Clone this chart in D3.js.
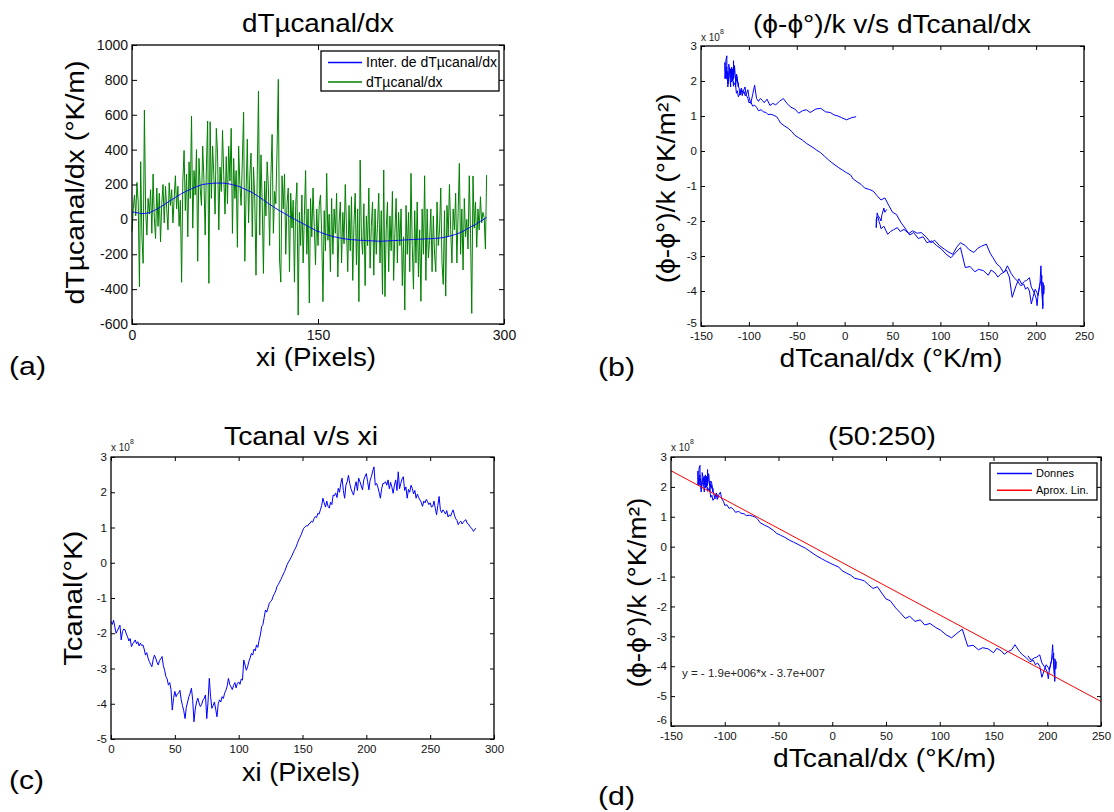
<!DOCTYPE html>
<html>
<head>
<meta charset="utf-8">
<script src="https://cdn.jsdelivr.net/npm/d3@7"></script>
<style>
  body { margin: 0; background: #fff; }
  svg { display: block; }
</style>
</head>
<body>
<svg id="fig" width="1114" height="812"></svg>
<script>
const FONT = "'Liberation Sans', Arial, Helvetica, sans-serif"

// pixel position along the channel (xi)
const pixelIndex = d3.range(287)

// interpolated dTµcanal/dx (°K/m), panel (a) blue
const dTInterp = [
  44, 42, 41, 39, 38, 37, 35, 34, 33, 33,
  34, 35, 36, 37, 38, 41, 45, 48, 51, 55,
  58, 62, 67, 71, 76, 80, 85, 90, 94, 99,
  104, 108, 113, 117, 121, 126, 130, 135, 139, 143,
  148, 152, 155, 159, 162, 166, 169, 172, 175, 179,
  182, 185, 188, 190, 193, 195, 198, 200, 201, 202,
  203, 204, 205, 206, 206, 207, 207, 208, 208, 208,
  208, 208, 208, 208, 207, 207, 206, 205, 204, 202,
  201, 199, 197, 195, 193, 191, 189, 187, 184, 180,
  177, 174, 170, 167, 163, 160, 157, 153, 150, 145,
  140, 136, 131, 126, 121, 116, 111, 106, 101, 96,
  91, 86, 82, 77, 72, 68, 63, 59, 54, 50,
  46, 42, 38, 34, 30, 26, 21, 17, 13, 9,
  6, 2, -2, -6, -10, -14, -17, -21, -25, -29,
  -32, -36, -40, -44, -48, -52, -55, -59, -63, -67,
  -69, -71, -74, -77, -80, -82, -85, -87, -90, -92,
  -94, -96, -98, -100, -101, -103, -104, -106, -107, -108,
  -110, -111, -112, -113, -114, -115, -116, -116, -117, -117,
  -118, -118, -119, -119, -120, -120, -121, -121, -121, -122,
  -122, -122, -123, -123, -123, -124, -124, -124, -125, -125,
  -125, -125, -125, -124, -124, -124, -123, -123, -123, -122,
  -122, -122, -121, -121, -121, -120, -120, -119, -119, -118,
  -118, -118, -117, -117, -116, -116, -116, -115, -115, -115,
  -114, -114, -114, -113, -113, -113, -112, -112, -112, -111,
  -111, -111, -110, -110, -109, -109, -108, -108, -107, -106,
  -105, -104, -103, -101, -100, -98, -96, -94, -92, -90,
  -88, -86, -84, -81, -78, -75, -72, -68, -64, -60,
  -56, -52, -48, -44, -40, -36, -33, -30, -25, -20,
  -15, -11, -7, -3, 2, 7, 12
]

// raw dTµcanal/dx (°K/m), panel (a) green
const dTRaw = [
  -70, 60, 140, 20, 212, 100, -386, 331, -100, -252,
  627, 50, -90, 120, 30, 170, -80, 260, 10, -110,
  180, -40, 150, -130, 90, 200, -20, 190, 60, -60,
  210, 80, 170, -20, 120, 250, 60, 190, -40, 110,
  -361, 220, 395, 50, 260, -100, 330, 120, 593, -50,
  280, 140, 400, -240, 350, 180, 80, 420, 230, -90,
  300, 564, -367, 560, 120, 420, 250, 30, 522, 380,
  -60, 300, 160, 510, 250, 30, 360, 90, 420, 220,
  522, -80, 350, 120, 280, -160, 420, 200, 80, 340,
  614, -240, 150, 460, -20, 250, 380, -100, 300, 120,
  -320, 250, 736, -90, 370, 100, -310, 220, 20, 330,
  180, -150, 250, 487, -80, 160, 90, 410, 803, -233,
  -360, 250, 60, 260, -200, 90, 180, -300, 150, -50,
  110, -360, 80, 210, -549, 40, -150, 140, -250, 20,
  280, -200, 60, -480, 120, -100, 180, -40, -260, 60,
  -150, 80, 140, -90, -472, 50, -180, 264, -120, 30,
  -300, 120, -200, 60, -80, 150, -330, -20, 100, -250,
  40, -140, 200, -60, -300, 80, -180, 130, -350, -30,
  150, -260, 60, -472, 340, -100, -200, 90, -380, 20,
  -150, 180, -280, -40, 100, -320, 60, -200, -30, 150,
  -250, 50, -430, 283, -443, -60, 100, -300, 20, -180,
  160, -350, -80, 120, -250, 40, -150, 60, -380, -100,
  -520, 80, -200, 40, -300, 264, -150, -400, 50, -250,
  100, -330, -60, -470, 60, -200, 250, -350, 60, -220,
  -120, 60, -300, 20, -200, -300, 100, -150, -60, 180,
  -250, -373, 50, -440, 80, -100, 200, -60, -250, 60,
  -60, 150, -250, 40, 321, -200, 60, -290, 120, -100,
  0, -170, 250, -80, -539, 249, -50, 100, -160, 60,
  -60, 130, -20, 40, 10, -170, 254
]

// Tcanal, panel (c), in units of 1e8
const tCanal = [
  -1.67, -1.75, -1.63, -1.82, -2.00, -1.93, -1.85, -1.77, -2.19, -1.95,
  -1.88, -1.90, -2.02, -2.10, -2.22, -2.15, -2.38, -2.30, -2.25, -2.19,
  -2.30, -2.24, -2.36, -2.28, -2.35, -2.33, -2.45, -2.62, -2.55, -2.70,
  -2.80, -2.88, -2.95, -2.75, -2.62, -2.70, -2.82, -2.90, -2.78, -2.72,
  -2.66, -2.92, -3.05, -3.23, -3.30, -3.47, -3.40, -3.60, -4.18, -3.85,
  -3.65, -3.80, -3.72, -3.70, -3.62, -3.89, -4.05, -4.20, -4.42, -4.10,
  -3.95, -3.80, -3.70, -3.56, -3.90, -4.51, -4.15, -3.95, -3.84, -3.98,
  -4.08, -4.02, -3.90, -3.85, -3.75, -4.42, -3.95, -3.28, -3.80, -4.13,
  -4.05, -3.95, -4.15, -4.37, -4.00, -3.89, -3.95, -3.80, -3.85, -3.70,
  -3.62, -3.50, -3.28, -3.45, -3.52, -3.60, -3.48, -3.40, -3.55, -3.42,
  -3.38, -3.45, -3.30, -3.33, -2.76, -2.90, -3.05, -2.95, -2.80, -2.70,
  -2.57, -2.62, -2.45, -2.50, -2.33, -2.40, -2.20, -2.05, -1.81, -1.75,
  -1.55, -1.34, -1.40, -1.28, -1.15, -1.10, -1.06, -0.95, -0.88, -0.80,
  -0.68, -0.62, -0.55, -0.48, -0.40, -0.32, -0.25, -0.15, -0.05, 0.02,
  0.08, 0.15, 0.22, 0.31, 0.38, 0.45, 0.55, 0.65, 0.72, 0.80,
  0.90, 0.98, 1.02, 1.05, 1.04, 1.10, 1.12, 1.18, 1.15, 1.25,
  1.31, 1.28, 1.40, 1.38, 1.50, 1.62, 1.83, 1.70, 1.58, 1.75,
  1.60, 1.55, 1.72, 1.65, 1.92, 1.90, 1.98, 1.85, 2.11, 2.00,
  2.25, 2.40, 2.05, 1.83, 2.20, 2.30, 2.48, 2.25, 2.10, 2.00,
  1.92, 2.15, 2.30, 2.05, 2.40, 2.30, 2.18, 2.07, 2.35, 2.45,
  2.53, 2.30, 2.07, 2.35, 2.45, 2.60, 2.72, 2.20, 2.25, 2.15,
  2.00, 1.83, 2.10, 2.25, 2.25, 2.30, 2.20, 2.35, 2.10, 2.28,
  2.15, 1.97, 2.20, 2.35, 2.05, 2.58, 2.10, 2.25, 2.38, 2.44,
  2.05, 2.15, 1.83, 2.08, 2.00, 2.20, 2.11, 1.95, 2.05, 1.83,
  1.95, 1.85, 1.78, 1.72, 1.60, 1.75, 1.70, 1.80, 1.73, 1.65,
  1.70, 1.58, 1.60, 1.75, 1.55, 1.36, 1.62, 1.88, 1.50, 1.42,
  1.50, 1.45, 1.38, 1.48, 1.30, 1.36, 1.32, 1.42, 1.50, 1.35,
  1.25, 1.20, 1.08, 1.15, 1.18, 1.10, 1.15, 1.20, 1.22, 1.12,
  1.10, 1.03, 1.00, 0.95, 0.89, 0.95, 0.98
]

// linear fit shown in panel (d): end points (×1e8)
const fitX = [-150, 250]
const fitY = [2.54, -5.18]
const fitRange = [50, 250]

// tick values
const xiTicksA = [0, 150, 300]
const dTTicksA = [-600, -400, -200, 0, 200, 400, 600, 800, 1000]
const gradTicks = [-150, -100, -50, 0, 50, 100, 150, 200, 250]
const phiTicksB = [-5, -4, -3, -2, -1, 0, 1, 2, 3]
const xiTicksC = [0, 50, 100, 150, 200, 250, 300]
const tTicksC = [-5, -4, -3, -2, -1, 0, 1, 2, 3]
const phiTicksD = [-6, -5, -4, -3, -2, -1, 0, 1, 2, 3]

const svg = d3.select('#fig')
  .attr('font-family', FONT)

svg.append('rect')
  .attr('width', 1114)
  .attr('height', 812)
  .attr('fill', '#fff')

/**
 * Draws the box, the inward ticks on the four sides and the tick labels.
 * lift raises the lowest y label, as MATLAB does when it crowds the x labels.
 */
function drawFrame (box, x, y, xTicks, yTicks, tickFont, tickLen, lift) {
  const g = svg.append('g')
  const fmt = d => String(d)

  g.append('g')
    .attr('transform', 'translate(0,' + box.bottom + ')')
    .call(d3.axisBottom(x).tickValues(xTicks).tickSize(-tickLen).tickPadding(6).tickFormat(fmt))
  g.append('g')
    .attr('transform', 'translate(0,' + box.top + ')')
    .call(d3.axisTop(x).tickValues(xTicks).tickSize(-tickLen).tickFormat(''))
  const left = g.append('g')
    .attr('transform', 'translate(' + box.left + ',0)')
    .call(d3.axisLeft(y).tickValues(yTicks).tickSize(-tickLen).tickPadding(4).tickFormat(fmt))
  g.append('g')
    .attr('transform', 'translate(' + box.right + ',0)')
    .call(d3.axisRight(y).tickValues(yTicks).tickSize(-tickLen).tickFormat(''))

  g.selectAll('.domain').remove()
  g.selectAll('.tick line').attr('stroke', '#000').attr('stroke-width', 1)
  g.selectAll('g').attr('font-family', FONT).attr('font-size', tickFont)
  g.selectAll('.tick text').attr('fill', '#111')
  left.selectAll('.tick text')
    .filter(d => d === yTicks[0])
    .attr('y', -(lift || 0))

  g.append('rect')
    .attr('x', box.left)
    .attr('y', box.top)
    .attr('width', box.right - box.left)
    .attr('height', box.bottom - box.top)
    .attr('fill', 'none')
    .attr('stroke', '#000')
    .attr('stroke-width', 1.3)
}

/**
 * Adds a text element; len stretches it to the width seen in the figure.
 */
function label (txt, x, y, size, anchor, len) {
  const t = svg.append('text')
    .attr('x', x)
    .attr('y', y)
    .attr('font-size', size)
    .attr('text-anchor', anchor || 'middle')
    .attr('fill', '#000')
    .text(txt)
  if (len) t.attr('textLength', len).attr('lengthAdjust', 'spacingAndGlyphs')
  return t
}

function yLabel (txt, x, cy, size, len) {
  return svg.append('text')
    .attr('transform', 'translate(' + x + ',' + cy + ') rotate(-90)')
    .attr('font-size', size)
    .attr('text-anchor', 'middle')
    .attr('fill', '#000')
    .attr('textLength', len)
    .attr('lengthAdjust', 'spacingAndGlyphs')
    .text(txt)
}

function exponent (x, y) {
  const t = label('x 10', x, y, 10, 'start').attr('fill', '#222')
  t.append('tspan').attr('dy', -7).attr('font-size', 7).text('8')
}

function drawPath (data, x, y, color, width) {
  svg.append('path')
    .datum(data)
    .attr('fill', 'none')
    .attr('stroke', color)
    .attr('stroke-width', width)
    .attr('stroke-linejoin', 'round')
    .attr('d', d3.line().x(d => x(d[0])).y(d => y(d[1])))
}

function drawLegend (box, rows, fontSize, lineLen) {
  svg.append('rect')
    .attr('x', box.x).attr('y', box.y)
    .attr('width', box.w).attr('height', box.h)
    .attr('fill', '#fff')
    .attr('stroke', '#000')
    .attr('stroke-width', 1.3)
  rows.forEach((r, i) => {
    const cy = box.y + box.row0 + i * box.step
    svg.append('line')
      .attr('x1', box.x + box.pad).attr('x2', box.x + box.pad + lineLen)
      .attr('y1', cy).attr('y2', cy)
      .attr('stroke', r.color).attr('stroke-width', 1.5)
    label(r.name, box.x + box.pad + lineLen + 4, cy, fontSize, 'start')
      .attr('dy', '0.35em')
  })
}

const BIG = 26

// ---------- (a) dTµcanal/dx ----------
const boxA = { left: 132, right: 504, top: 45, bottom: 324 }
const xA = d3.scaleLinear().domain([0, 300]).range([boxA.left, boxA.right])
const yA = d3.scaleLinear().domain([-600, 1000]).range([boxA.bottom, boxA.top])
drawPath(pixelIndex.map(i => [i, dTRaw[i]]), xA, yA, '#008000', 1)
drawPath(pixelIndex.map(i => [i, dTInterp[i]]), xA, yA, '#0000ff', 1)
drawFrame(boxA, xA, yA, xiTicksA, dTTicksA, 14, 5, 0)
drawLegend({ x: 321, y: 51, w: 178, h: 40, row0: 11.5, step: 19.5, pad: 7 },
  [{ name: 'Inter. de dTµcanal/dx', color: '#0000ff' }, { name: 'dTµcanal/dx', color: '#008000' }],
  14, 34)
label('dTµcanal/dx', 318, 32, BIG, 'middle', 152)
label('xi (Pixels)', 316, 366, BIG, 'middle', 120)
yLabel('dTµcanal/dx (°K/m)', 84, 182.5, BIG, 244)
label('(a)', 9, 375, BIG, 'start', 37)

// ---------- (b) (ϕ-ϕ°)/k v/s dTcanal/dx ----------
const boxB = { left: 701, right: 1084, top: 46, bottom: 326 }
const xB = d3.scaleLinear().domain([-150, 250]).range([boxB.left, boxB.right])
const yB = d3.scaleLinear().domain([-5, 3]).range([boxB.bottom, boxB.top])
drawPath(pixelIndex.map(i => [dTInterp[i], tCanal[i]]), xB, yB, '#0000ff', 1)
drawFrame(boxB, xB, yB, gradTicks, phiTicksB, 11.5, 4, 3)
exponent(701, 41)
label('(ϕ-ϕ°)/k v/s dTcanal/dx', 892, 33, BIG, 'middle', 278)
label('dTcanal/dx (°K/m)', 891, 367, BIG, 'middle', 223)
yLabel('(ϕ-ϕ°)/k (°K/m²)', 675, 188.3, BIG, 190)
label('(b)', 598, 376, BIG, 'start', 37)

// ---------- (c) Tcanal v/s xi ----------
const boxC = { left: 111, right: 494, top: 457, bottom: 739 }
const xC = d3.scaleLinear().domain([0, 300]).range([boxC.left, boxC.right])
const yC = d3.scaleLinear().domain([-5, 3]).range([boxC.bottom, boxC.top])
drawPath(pixelIndex.map(i => [i, tCanal[i]]), xC, yC, '#0000ff', 1)
drawFrame(boxC, xC, yC, xiTicksC, tTicksC, 11.5, 4, 0)
exponent(111, 451)
label('Tcanal v/s xi', 301, 445, BIG, 'middle', 154)
label('xi (Pixels)', 301, 781, BIG, 'middle', 118)
yLabel('Tcanal(°K)', 82, 598.3, BIG, 135)
label('(c)', 9, 789, BIG, 'start', 35)

// ---------- (d) (50:250) ----------
const boxD = { left: 671, right: 1101, top: 457, bottom: 726 }
const xD = d3.scaleLinear().domain([-150, 250]).range([boxD.left, boxD.right])
const yD = d3.scaleLinear().domain([-6, 3]).range([boxD.bottom, boxD.top])
const subset = pixelIndex.slice(fitRange[0], fitRange[1] + 1)
drawPath(subset.map(i => [dTInterp[i], tCanal[i]]), xD, yD, '#0000ff', 1)
drawPath(fitX.map((v, i) => [v, fitY[i]]), xD, yD, '#ff0000', 1)
drawFrame(boxD, xD, yD, gradTicks, phiTicksD, 11.5, 4, 6)
drawLegend({ x: 990, y: 463, w: 107, h: 37, row0: 10.5, step: 16.7, pad: 7 },
  [{ name: 'Donnes', color: '#0000ff' }, { name: 'Aprox. Lin.', color: '#ff0000' }],
  11, 35)
label('y = - 1.9e+006*x - 3.7e+007', 682, 677, 11.5, 'start', 143).attr('fill', '#222')
exponent(671, 451)
label('(50:250)', 882, 445, BIG, 'middle', 108)
label('dTcanal/dx (°K/m)', 884.5, 767, BIG, 'middle', 223)
yLabel('(ϕ-ϕ°)/k (°K/m²)', 646, 592.5, BIG, 190)
label('(d)', 598, 805, BIG, 'start', 37)
</script>
</body>
</html>
